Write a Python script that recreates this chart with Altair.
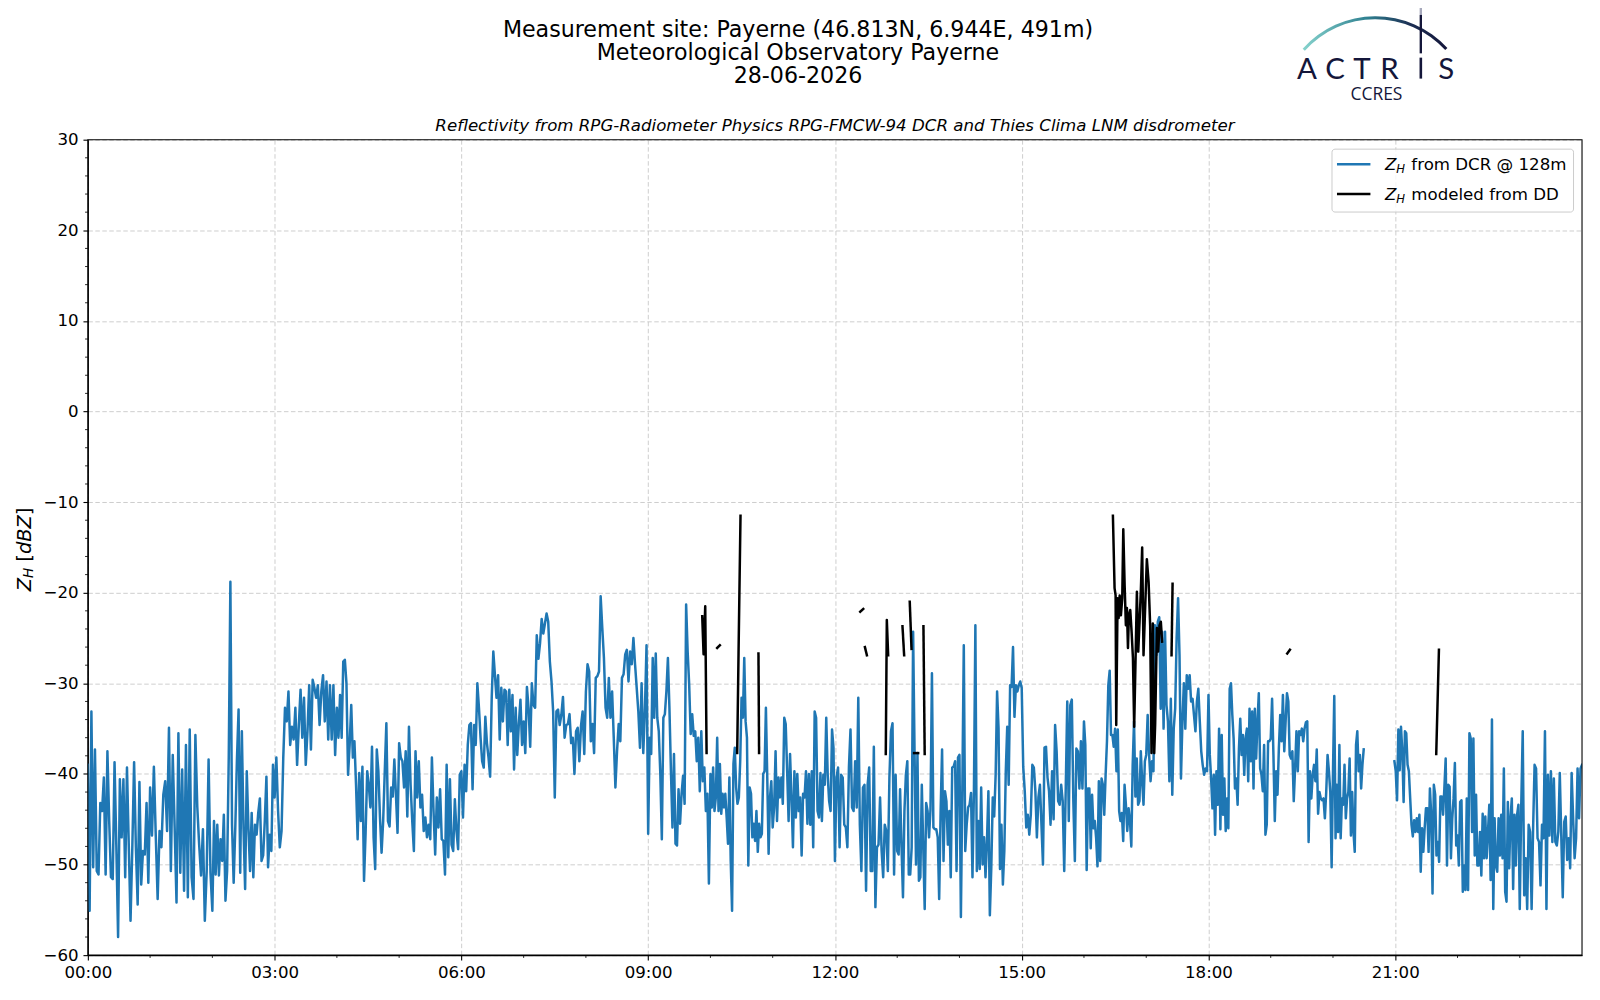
import altair as alt
import pandas as pd

# ---------------- Z_H from DCR @ 128m (dBZ), one list per hour, samples evenly spaced
dcr_00 = [-39.0, -55.1, -33.1, -50.3, -37.3, -50.7, -51.1, -43.2, -44.1, -40.4, -51.1, -37.5, -45.2, -51.4, -51.6,
          -38.7, -47.8, -58.0, -40.6, -47.0, -40.6, -51.4, -39.3, -47.8, -56.2, -48.1, -38.7, -48.1, -54.4, -40.9,
          -52.2, -48.5, -48.9, -43.2, -52.0]
dcr_01 = [-41.5, -46.8, -39.2, -46.8, -53.8, -46.3, -48.1, -42.3, -40.8, -46.3, -34.9, -50.7, -37.9, -45.8, -54.2,
          -35.5, -50.9, -39.5, -52.9, -36.8, -53.6, -35.1, -51.4, -53.8, -35.7, -43.6, -47.8, -51.2, -46.1, -56.2,
          -50.7, -38.4, -50.9]
dcr_02 = [-55.1, -45.2, -51.1, -45.6, -51.2, -47.2, -49.6, -44.5, -54.0, -50.7, -38.2, -18.8, -45.6, -52.0, -45.9,
          -38.4, -32.9, -50.9, -35.3, -45.9, -52.7, -39.7, -45.9, -50.7, -44.3, -51.4, -45.6, -46.7, -44.3, -42.7,
          -49.6, -49.0, -45.2, -40.3, -50.3, -46.7, -48.5, -39.0]
dcr_03 = [-42.6, -38.2, -44.1, -48.1, -46.3, -38.2, -32.7, -34.2, -30.9, -36.8, -34.8, -36.2, -32.7, -39.0, -34.6,
          -30.7, -36.0, -31.6, -39.0, -35.3, -30.2, -37.3, -29.6, -30.5, -31.6, -30.2, -34.6, -30.9, -29.1, -34.2,
          -29.8, -36.2, -30.2, -36.2, -30.2, -37.9]
dcr_04 = [-32.7, -36.0, -31.3, -36.0, -27.6, -27.4, -30.0, -40.1, -36.8, -32.4, -38.2, -36.4, -41.2, -47.2, -39.9,
          -45.2, -39.2, -51.8, -46.5, -39.7, -41.2, -43.7, -37.0, -47.0, -50.5, -37.3, -39.7, -44.8, -48.7, -45.2,
          -39.7, -34.4, -45.2, -45.8, -41.5, -42.5, -38.4, -42.3, -46.5]
dcr_05 = [-36.6, -38.2, -38.6, -41.5, -37.5, -44.7, -34.8, -41.2, -45.2, -48.5, -37.5, -42.6, -38.6, -43.7, -42.3,
          -46.3, -44.8, -47.0, -45.6, -47.2, -38.2, -44.1, -48.9, -42.6, -45.9, -41.7, -47.2, -47.4, -51.1, -39.0,
          -49.2, -40.6, -47.8, -48.5, -42.8, -46.3, -48.3, -40.1]
dcr_06 = [-39.7, -44.8, -39.0, -41.9, -36.8, -34.6, -34.4, -41.7, -34.6, -36.8, -30.0, -32.7, -36.0, -38.6, -39.3,
          -33.7, -36.6, -38.2, -40.3, -31.6, -26.5, -29.1, -31.6, -29.1, -36.2, -30.5, -34.2, -30.7, -30.9, -36.8,
          -30.7, -35.3, -31.3, -39.5, -32.7, -37.9, -34.4, -31.8, -36.8]
dcr_07 = [-34.2, -37.7, -30.4, -32.7, -37.0, -30.0, -32.4, -32.7, -24.7, -27.3, -25.6, -22.9, -24.5, -23.4, -22.3,
          -23.2, -27.6, -29.8, -33.1, -42.6, -33.1, -32.9, -34.6, -33.5, -31.5, -36.0, -34.6, -34.5, -33.4, -36.6,
          -36.0, -40.0, -35.3, -34.9, -38.6, -34.7, -33.1, -37.8]
dcr_08 = [-30.9, -27.9, -28.7, -36.4, -34.5, -37.7, -29.4, -29.2, -28.7, -20.4, -23.9, -27.2, -32.7, -33.8, -29.4,
          -33.8, -30.9, -36.0, -41.5, -37.5, -34.5, -36.4, -29.4, -29.0, -26.8, -26.3, -29.8, -26.5, -27.9, -25.0,
          -27.9, -30.5, -33.1, -37.1, -30.0, -37.7, -33.1, -25.8]
dcr_09 = [-46.6, -36.0, -37.8, -27.2, -33.8, -26.7, -33.8, -35.3, -40.0, -47.2, -33.8, -33.4, -30.9, -27.2, -32.7,
          -39.7, -45.9, -37.8, -47.7, -47.9, -41.7, -45.5, -42.2, -40.2, -43.3, -21.3, -26.5, -30.1, -35.6, -33.4,
          -35.8, -35.3, -38.6, -36.0, -41.9, -35.3, -40.8, -39.3, -44.1, -42.2, -52.1]
dcr_10 = [-40.0, -43.7, -39.3, -44.1, -42.6, -36.0, -44.1, -38.9, -44.4, -42.2, -43.7, -42.2, -44.8, -47.7, -40.4,
          -49.6, -55.1, -38.9, -37.1, -41.5, -43.3, -42.6, -38.6, -31.6, -33.8, -27.2, -34.2, -36.0, -50.1, -41.5,
          -42.2, -47.0, -45.5, -47.4, -44.1, -48.6, -45.5, -47.0, -46.6, -40.0, -39.7, -32.7, -40.4, -48.8, -42.6,
          -40.8]
dcr_11 = [-45.9, -43.7, -37.5, -45.2, -40.4, -42.6, -40.4, -43.3, -33.8, -34.5, -39.7, -45.2, -37.8, -42.6, -48.1,
          -39.7, -44.8, -40.0, -44.1, -42.6, -49.0, -42.2, -42.6, -39.7, -45.5, -40.0, -45.6, -39.7, -48.1, -33.1,
          -33.8, -44.1, -44.8, -39.9, -45.2, -40.1, -41.2, -33.8, -40.1, -43.0, -44.1, -35.1, -37.1]
dcr_12 = [-49.6, -40.4, -39.3, -48.1, -40.1, -40.4, -45.6, -45.9, -48.1, -39.2, -35.1, -43.7, -44.1, -38.6, -43.7,
          -31.6, -45.6, -50.7, -41.5, -41.2, -52.9, -41.2, -39.3, -50.7, -50.7, -37.0, -54.7, -48.1, -47.8, -42.6,
          -48.5, -51.4, -45.6, -46.3, -50.7, -40.4, -35.3, -34.4, -51.1, -40.1]
dcr_13 = [-48.5, -48.9, -41.7, -48.1, -53.6, -44.1, -40.1, -38.6, -51.1, -51.1, -48.1, -24.3, -37.7, -50.0, -37.7,
          -51.8, -51.4, -41.2, -48.1, -54.9, -43.2, -44.1, -47.0, -43.9, -28.9, -45.9, -46.1, -46.1, -47.0, -53.8,
          -44.1, -37.3, -49.6, -41.9, -43.0, -47.8, -44.1, -51.4, -39.3, -39.2, -38.6, -50.7, -38.2]
dcr_14 = [-37.9, -55.8, -41.5, -25.8, -48.5, -45.6, -43.7, -43.4, -42.1, -51.4, -41.9, -23.6, -50.7, -45.2, -50.5,
          -41.5, -50.0, -47.0, -51.4, -47.4, -41.9, -55.6, -50.3, -42.6, -44.7, -40.1, -30.9, -34.9, -50.5, -45.6,
          -52.2, -48.5, -39.7, -34.8, -41.2, -30.2, -30.4, -26.0, -33.7, -30.2, -30.9, -30.2, -29.8]
dcr_15 = [-30.5, -39.2, -41.9, -45.9, -44.5, -46.7, -44.5, -39.0, -39.3, -41.9, -47.0, -42.6, -41.2, -45.6, -50.0,
          -37.1, -37.0, -40.4, -41.9, -45.6, -39.7, -45.0, -34.6, -37.5, -43.0, -43.4, -41.2, -43.0, -50.7, -41.6,
          -32.0, -45.2, -32.4, -31.8, -43.0, -49.6, -37.2, -37.5, -41.6, -36.4, -41.6]
dcr_16 = [-34.2, -36.8, -50.6, -41.6, -41.6, -48.2, -42.3, -46.0, -45.2, -47.1, -50.2, -40.8, -49.6, -40.5, -41.2,
          -44.5, -40.1, -36.4, -30.2, -28.6, -35.7, -35.7, -37.0, -35.0, -39.7, -35.1, -44.1, -45.2, -44.3, -47.4,
          -41.2, -43.4, -46.3, -43.8, -45.2, -48.0, -39.0, -34.2, -42.5, -38.3, -43.4, -43.0, -37.5, -40.8, -43.4,
          -38.6]
dcr_17 = [-37.9, -33.5, -37.9, -40.8, -38.6, -39.7, -23.6, -26.9, -23.2, -22.7, -32.8, -24.3, -35.0, -24.3, -32.4,
          -34.2, -40.8, -31.7, -42.3, -35.0, -32.8, -25.0, -20.6, -26.9, -40.5, -34.2, -30.0, -35.0, -29.1, -30.6,
          -29.1, -32.0, -31.7, -33.5, -35.3, -32.0, -30.6, -34.2, -37.5, -39.0, -40.1, -39.4, -39.7]
dcr_18 = [-31.3, -37.9, -40.5, -43.8, -40.1, -46.7, -39.7, -43.4, -35.0, -46.1, -35.7, -44.5, -40.5, -46.3, -42.7,
          -46.0, -30.6, -30.0, -33.5, -36.1, -41.6, -40.5, -43.4, -37.2, -33.9, -37.9, -35.7, -40.1, -36.1, -35.0,
          -40.8, -32.8, -38.6, -33.1, -41.6, -32.8, -38.3, -34.2, -31.1, -39.4, -40.1, -41.9, -36.8, -46.7, -45.6,
          -36.4, -36.4]
dcr_19 = [-36.1, -31.7, -37.9, -45.2, -39.7, -42.3, -37.2, -33.5, -36.4, -31.3, -37.5, -34.2, -31.1, -32.0, -37.9,
          -38.3, -37.5, -43.0, -39.4, -35.3, -39.7, -35.3, -35.7, -35.0, -36.4, -35.0, -34.3, -34.2, -47.5, -39.7,
          -42.7, -40.1, -39.0, -40.8, -37.3, -44.4, -42.0, -42.7, -42.9, -42.7, -44.9, -42.0, -37.9, -39.7, -42.0,
          -50.3]
dcr_20 = [-39.7, -31.4, -47.1, -41.2, -46.4, -36.8, -47.1, -42.7, -43.4, -39.0, -44.9, -42.7, -42.0, -38.3, -46.8,
          -42.0, -46.4, -48.6, -36.8, -35.3, -39.7, -37.9, -41.6, -39.0, -37.3]
dcr_21 = [-38.6, -39.7, -42.9, -35.1, -39.6, -34.8, -37.5, -43.1, -35.3, -35.5, -39.0, -39.7, -42.7, -45.6, -46.9,
          -45.1, -46.4, -44.9, -46.4, -44.5, -50.8, -46.0, -48.6, -46.0, -43.8, -43.8, -48.6, -41.6, -44.5, -53.2,
          -41.2, -42.3, -49.0, -47.5, -49.7, -42.5, -42.5, -44.5, -41.6, -38.3, -50.1, -41.2, -41.4, -49.3, -44.9,
          -42.7, -38.8, -47.9]
dcr_22 = [-46.8, -50.1, -43.1, -42.9, -53.0, -50.1, -52.8, -42.7, -52.8, -35.5, -36.1, -46.4, -36.1, -49.0, -42.3,
          -50.1, -50.1, -46.4, -51.2, -44.4, -49.3, -44.7, -49.3, -46.4, -43.4, -51.7, -34.0, -54.9, -44.9, -50.1,
          -50.8, -44.9, -49.0, -44.5, -49.3, -39.4, -53.0, -54.1, -43.1, -50.4, -44.9, -42.7, -52.7, -44.5, -50.1,
          -44.5, -43.4]
dcr_23 = [-54.9, -43.4, -35.3, -53.4, -49.3, -54.9, -45.6, -46.4, -54.9, -46.0, -39.0, -39.4, -47.1, -47.5, -52.3,
          -45.6, -47.1, -35.3, -54.9, -40.1, -46.8, -39.7, -47.5, -40.5, -47.5, -47.9, -46.4, -39.9, -46.8, -53.6,
          -45.3, -44.7, -49.5, -47.1, -50.4, -39.9, -44.9, -49.3, -47.1, -39.4, -44.9, -39.4, -39.0]

# (start minute, end minute, values, end included, line segment)
dcr_chunks = [(h * 60, h * 60 + 60, vals, False, "a") for h, vals in enumerate(
    [dcr_00, dcr_01, dcr_02, dcr_03, dcr_04, dcr_05, dcr_06, dcr_07, dcr_08, dcr_09,
     dcr_10, dcr_11, dcr_12, dcr_13, dcr_14, dcr_15, dcr_16, dcr_17, dcr_18, dcr_19])]
dcr_chunks += [(1200, 1229.6, dcr_20, True, "a"),
               (1259.2, 1320, dcr_21, False, "b"),
               (1320, 1380, dcr_22, False, "b"),
               (1380, 1440, dcr_23, True, "b")]

# ---------------- Z_H modeled from disdrometer (minute of day, dBZ, segment)
dd_min = [592.1, 593.4, 595.0, 596.3,
          606.5, 609.1,
          625.8, 627.1, 629.0,
          646.3, 646.9,
          744.4, 747.3,
          748.9, 750.8,
          769.0, 770.0, 771.3,
          785.1, 786.7,
          792.1, 793.8,
          796.3, 800.2,
          805.3, 806.5,
          987.9, 989.5, 990.5, 991.1, 992.4, 993.4, 994.4, 995.6, 996.9, 997.9, 999.2, 1000.4, 1001.4, 1002.4,
          1003.3, 1004.6, 1005.9, 1007.2, 1008.4, 1009.8, 1011.0, 1012.3, 1013.6, 1014.9, 1016.1, 1017.4,
          1020.6, 1022.3, 1023.8, 1025.1, 1026.4, 1027.7, 1028.6, 1030.3, 1031.5, 1032.8, 1034.1, 1035.3,
          1044.4, 1045.4,
          1155.9, 1158.5,
          1299.5, 1302.1]
dd_val = [-22.6, -26.8, -21.5, -37.7,
          -26.1, -25.8,
          -37.7, -26.7, -11.5,
          -26.7, -37.7,
          -22.1, -21.8,
          -26.0, -26.9,
          -37.8, -23.0, -26.9,
          -23.7, -26.9,
          -21.0, -26.2,
          -37.7, -37.7,
          -23.7, -37.8,
          -11.5, -19.5, -20.3, -34.6, -20.6, -22.8, -20.3, -22.5, -20.6, -13.0, -19.2, -23.6, -21.7, -26.1,
          -22.5, -21.9, -24.3, -27.2, -34.8, -26.9, -19.9, -26.5, -23.2, -19.5, -15.0, -26.9,
          -16.3, -18.8, -23.6, -37.7, -23.4, -37.7, -34.6, -23.9, -26.5, -23.6, -23.2, -25.4,
          -26.9, -19.0,
          -26.7, -26.3,
          -37.8, -26.3]
dd_seg = ([1] * 4 + [2] * 2 + [3] * 3 + [4] * 2 + [5] * 2 + [6] * 2 + [7] * 3 + [8] * 2 + [9] * 2
          + [10] * 2 + [11] * 2 + [12] * 38 + [13] * 2 + [14] * 2 + [15] * 2)

# ---------------- axis ticks and texts
x_major = [0, 180, 360, 540, 720, 900, 1080, 1260]
x_minor = [m for m in range(60, 1440, 60) if m % 180]
y_major = list(range(-60, 31, 10))
y_minor = [v for v in range(-58, 30, 2) if v % 10]
title_lines = ["Measurement site: Payerne (46.813N, 6.944E, 491m)",
               "Meteorological Observatory Payerne",
               "28-06-2026"]
subtitle = "Reflectivity from RPG-Radiometer Physics RPG-FMCW-94 DCR and Thies Clima LNM disdrometer"
legend_labels = ["from DCR @ 128m", "modeled from DD"]
legend_colors = ["#1f77b4", "black"]

# ---------------- build tables
rows = []
for start, end, vals, incl, seg in dcr_chunks:
    n = len(vals)
    step = (end - start) / ((n - 1) if incl else n)
    for i, v in enumerate(vals):
        rows.append({"t": start + i * step, "v": v, "seg": seg})
df_dcr = pd.DataFrame(rows)
df_dd = pd.DataFrame({"t": dd_min, "v": dd_val, "seg": dd_seg})
df_xminor = pd.DataFrame({"t": x_minor})
df_yminor = pd.DataFrame({"v": y_minor})
one = pd.DataFrame({"k": [0]})

W, H = 1497, 817
FONT = "DejaVu Sans"
FS = 16.67
LW = 2.5

xscale = alt.Scale(domain=[0, 1440], nice=False, zero=False)
yscale = alt.Scale(domain=[-60, 30], nice=False, zero=False)
xaxis = alt.Axis(values=x_major, title=None, grid=True,
                 labelExpr="(datum.value < 600 ? '0' : '') + floor(datum.value / 60) + ':00'")
yaxis = alt.Axis(values=y_major, title=None, grid=True)

X = alt.X("t:Q", scale=xscale, axis=xaxis)
Y = alt.Y("v:Q", scale=yscale, axis=yaxis)

dcr_line = alt.Chart(df_dcr).mark_line(color="#1f77b4", strokeWidth=LW, strokeJoin="round",
                                       strokeCap="square", clip=True).encode(x=X, y=Y, detail="seg:N")
dd_line = alt.Chart(df_dd).mark_line(color="black", strokeWidth=LW, strokeJoin="round",
                                     strokeCap="square", clip=True).encode(x=X, y=Y, detail="seg:N")

xminor = alt.Chart(df_xminor).mark_rule(color="black", strokeWidth=0.83).encode(
    x=X, y=alt.value(H), y2=alt.value(H + 2.8))
yminor = alt.Chart(df_yminor).mark_rule(color="black", strokeWidth=0.83).encode(
    y=Y, x=alt.value(0), x2=alt.value(-2.8))

frame = alt.Chart(one).mark_rect(fill="white", fillOpacity=0, stroke="black", strokeWidth=1.1).encode(
    x=alt.value(0), x2=alt.value(W), y=alt.value(0), y2=alt.value(H))


def txt(s, x, y, size=FS, style="normal", angle=0, align="left", font=FONT, color="black", weight="normal"):
    kw = dict(text=s, font=font, fontSize=size, fontStyle=style, align=align, baseline="alphabetic",
              color=color, fontWeight=weight)
    if angle:
        kw["angle"] = angle
    return alt.Chart(one).mark_text(**kw).encode(x=alt.value(x), y=alt.value(y))


layers = [dcr_line, dd_line, xminor, yminor, frame]

# titles
for s, yy in zip(title_lines, [-102.7, -79.7, -56.7]):
    layers.append(txt(s, 711.5, yy, size=22.2, align="center"))
layers.append(txt(subtitle, W / 2, -8.4, style="italic", align="center"))

# y-axis label  Z_H [dBZ]
YL = 19.44
layers += [txt("Z", -57.0, 452.5, size=YL, style="italic", angle=270),
           txt("H", -55.0, 439.2, size=13.6, style="italic", angle=270),
           txt("[", -57.0, 422.8, size=YL, angle=270),
           txt("dBZ", -57.0, 415.2, size=YL, style="italic", angle=270),
           txt("]", -57.0, 376.3, size=YL, angle=270)]

# legend
layers.append(alt.Chart(one).mark_rect(fill="white", fillOpacity=0.8, stroke="#cccccc", strokeWidth=1,
                                       cornerRadius=3).encode(
    x=alt.value(1246.5), x2=alt.value(1488.5), y=alt.value(9.5), y2=alt.value(72.5)))
for i, (lab, col) in enumerate(zip(legend_labels, legend_colors)):
    yl = 24.5 + 30 * i
    layers.append(alt.Chart(one).mark_rule(color=col, strokeWidth=LW).encode(
        x=alt.value(1251.5), x2=alt.value(1285.0), y=alt.value(yl)))
    layers += [txt("Z", 1299.5, yl + 6.3, style="italic"),
               txt("H", 1311.0, yl + 9.0, size=11.67, style="italic"),
               txt(lab, 1326.0, yl + 6.3)]

# ACTRIS / CCRES logo
NAVY = "#14163a"
arc_fill = alt.Gradient(gradient="linear", x1=0, y1=0, x2=1, y2=0,
                        stops=[alt.GradientStop(offset=0, color="#86d3cd"),
                               alt.GradientStop(offset=0.45, color="#2f8090"),
                               alt.GradientStop(offset=0.75, color="#1c2d52"),
                               alt.GradientStop(offset=1, color=NAVY)])
layers.append(alt.Chart(one).mark_arc(theta=5.4436, theta2=7.1143, outerRadius=97.8, innerRadius=94.8,
                                      fill=arc_fill).encode(x=alt.value(1289.9), y=alt.value(-25.9)))
layers.append(alt.Chart(one).mark_rule(color="#a6a8bb", strokeWidth=2.4).encode(
    x=alt.value(1335.5), y=alt.value(-137.5), y2=alt.value(-125)))
layers.append(alt.Chart(one).mark_rule(color=NAVY, strokeWidth=2.4).encode(
    x=alt.value(1335.5), y=alt.value(-125), y2=alt.value(-86.5)))
layers.append(alt.Chart(one).mark_rule(color=NAVY, strokeWidth=2.6).encode(
    x=alt.value(1335.5), y=alt.value(-82.2), y2=alt.value(-61.2)))
for ch, cx in zip("ACTRS", [1221.5, 1249.5, 1276.5, 1304.0, 1361.0]):
    layers.append(txt(ch, cx, -61.2, size=29.5, align="center", font="Lato", color=NAVY))
layers.append(txt("CCRES", 1291.0, -39.5, size=17.5, align="center", font="Open Sans", color=NAVY))

chart = alt.layer(*layers).properties(
    width=W, height=H,
    padding={"left": 80, "top": 131, "right": 10, "bottom": 40},
    autosize=alt.AutoSizeParams(type="none"),
).configure_view(stroke=None).configure_axis(
    domainColor="black", domainWidth=1.1, tickColor="black", tickWidth=1.1, tickSize=4.9,
    labelFont=FONT, labelFontSize=FS, labelColor="black", labelPadding=4.9,
    gridColor="#c8c8c8", gridDash=[4.5, 2.5], gridWidth=0.9, labelFlush=False, labelOverlap=False,
)

chart.save("out.html", embed_options={"renderer": "svg", "actions": False})
